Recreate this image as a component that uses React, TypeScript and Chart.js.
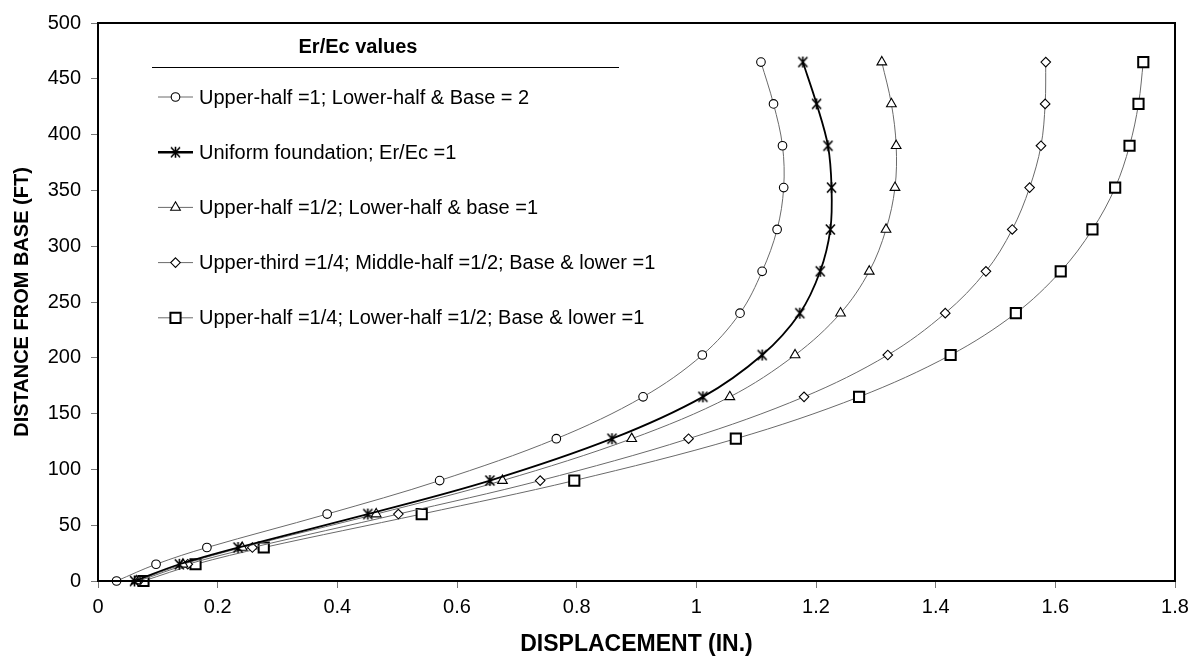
import React, { useEffect, useRef } from "react";
import { Chart, registerables } from "chart.js";

Chart.register(...registerables);

// Heights (ft from base) at which displacements were computed
const heights = [0, 15, 30, 60, 90, 127.5, 165, 202.5, 240, 277.5, 315, 352.5, 390, 427.5, 465];

// Displacements (in.) for each Er/Ec configuration
const upperHalf1LowerHalf2 = [0.031, 0.097, 0.182, 0.383, 0.571, 0.766, 0.911, 1.01, 1.073, 1.11, 1.135, 1.146, 1.144, 1.129, 1.108];
const uniformFoundation = [0.061, 0.136, 0.234, 0.451, 0.655, 0.859, 1.011, 1.11, 1.173, 1.207, 1.224, 1.226, 1.22, 1.201, 1.178];
const upperHalfHalf = [0.064, 0.142, 0.241, 0.465, 0.676, 0.892, 1.056, 1.165, 1.241, 1.289, 1.317, 1.332, 1.334, 1.326, 1.31];
const upperThirdQuarter = [0.068, 0.15, 0.258, 0.502, 0.739, 0.987, 1.18, 1.32, 1.416, 1.484, 1.528, 1.557, 1.576, 1.583, 1.584];
const upperHalfQuarter = [0.076, 0.163, 0.277, 0.541, 0.796, 1.066, 1.272, 1.425, 1.534, 1.609, 1.662, 1.7, 1.724, 1.739, 1.747];

const seriesLabels = [
  "Upper-half =1; Lower-half & Base = 2",
  "Uniform foundation; Er/Ec =1",
  "Upper-half =1/2; Lower-half & base =1",
  "Upper-third =1/4; Middle-half =1/2; Base & lower =1",
  "Upper-half =1/4; Lower-half =1/2; Base & lower =1",
];
const legendTitle = "Er/Ec values";
const xTitle = "DISPLACEMENT (IN.)";
const yTitle = "DISTANCE FROM BASE (FT)";

const FONT = "'Liberation Sans', Arial, Helvetica, sans-serif";

function makeAsterisk(): HTMLCanvasElement {
  const size = 13;
  const c = document.createElement("canvas");
  c.width = size;
  c.height = size;
  const ctx = c.getContext("2d")!;
  ctx.strokeStyle = "#000";
  ctx.lineWidth = 1.6;
  const m = size / 2;
  ctx.beginPath();
  ctx.moveTo(m, 1);
  ctx.lineTo(m, size - 1);
  ctx.moveTo(m - 4.5, 1.5);
  ctx.lineTo(m + 4.5, size - 1.5);
  ctx.moveTo(m + 4.5, 1.5);
  ctx.lineTo(m - 4.5, size - 1.5);
  ctx.stroke();
  return c;
}

type Sty = { style: string; radius: number; bw: number; lineColor: string; lineWidth: number };

const styles: Sty[] = [
  { style: "circle", radius: 4.3, bw: 1.1, lineColor: "#6a6a6a", lineWidth: 1 },
  { style: "asterisk", radius: 6, bw: 1.6, lineColor: "#000000", lineWidth: 1.8 },
  { style: "triangle", radius: 5.6, bw: 1.1, lineColor: "#6a6a6a", lineWidth: 1 },
  { style: "rectRot", radius: 4.8, bw: 1.1, lineColor: "#6a6a6a", lineWidth: 1 },
  { style: "rect", radius: 7.2, bw: 2, lineColor: "#6a6a6a", lineWidth: 1 },
];

function drawMarker(ctx: CanvasRenderingContext2D, s: Sty, x: number, y: number, ast: HTMLCanvasElement) {
  ctx.save();
  ctx.fillStyle = "#fff";
  ctx.strokeStyle = "#000";
  ctx.lineWidth = s.bw;
  const r = s.radius;
  ctx.beginPath();
  if (s.style === "asterisk") {
    ctx.drawImage(ast, x - ast.width / 2, y - ast.height / 2);
    ctx.restore();
    return;
  } else if (s.style === "circle") {
    ctx.arc(x, y, r, 0, Math.PI * 2);
  } else if (s.style === "triangle") {
    ctx.moveTo(x, y - r);
    ctx.lineTo(x + r * Math.sin(Math.PI / 3), y + r * 0.5);
    ctx.lineTo(x - r * Math.sin(Math.PI / 3), y + r * 0.5);
    ctx.closePath();
  } else if (s.style === "rectRot") {
    ctx.moveTo(x, y - r);
    ctx.lineTo(x + r, y);
    ctx.lineTo(x, y + r);
    ctx.lineTo(x - r, y);
    ctx.closePath();
  } else {
    const h = r * Math.SQRT1_2;
    ctx.rect(x - h, y - h, 2 * h, 2 * h);
  }
  ctx.fill();
  ctx.stroke();
  ctx.restore();
}

export default function App() {
  const ref = useRef<HTMLCanvasElement | null>(null);

  useEffect(() => {
    if (!ref.current) return;
    const ast = makeAsterisk();
    const series = [upperHalf1LowerHalf2, uniformFoundation, upperHalfHalf, upperThirdQuarter, upperHalfQuarter];

    const datasets = series.map((vals, i) => {
      const s = styles[i];
      return {
        label: seriesLabels[i],
        data: heights.map((h, j) => ({ x: vals[j], y: h })),
        showLine: true,
        tension: 0.35,
        borderColor: s.lineColor,
        borderWidth: s.lineWidth,
        pointStyle: s.style === "asterisk" ? ast : s.style,
        pointRadius: s.radius,
        pointBorderWidth: s.bw,
        pointBorderColor: "#000",
        pointBackgroundColor: "#fff",
        clip: false as any,
      };
    });

    const decor = {
      id: "decor",
      afterDraw(chart: any) {
        const ctx: CanvasRenderingContext2D = chart.ctx;
        const a = chart.chartArea;
        ctx.save();
        // frame
        ctx.strokeStyle = "#000";
        ctx.lineWidth = 2;
        ctx.strokeRect(a.left, a.top, a.right - a.left, a.bottom - a.top);

        // legend
        ctx.fillStyle = "#000";
        ctx.font = `bold 20px ${FONT}`;
        ctx.textAlign = "center";
        ctx.textBaseline = "middle";
        ctx.fillText(legendTitle, 358, 47);
        ctx.lineWidth = 1;
        ctx.beginPath();
        ctx.moveTo(152, 67.5);
        ctx.lineTo(619, 67.5);
        ctx.stroke();

        ctx.font = `20px ${FONT}`;
        ctx.textAlign = "left";
        for (let i = 0; i < seriesLabels.length; i++) {
          const y = 97 + i * 55.2;
          const s = styles[i];
          ctx.strokeStyle = s.lineColor;
          ctx.lineWidth = s.lineWidth + (i === 1 ? 0.6 : 0);
          ctx.beginPath();
          ctx.moveTo(158, y);
          ctx.lineTo(193, y);
          ctx.stroke();
          drawMarker(ctx, s, 175.5, y, ast);
          ctx.fillStyle = "#000";
          ctx.fillText(seriesLabels[i], 199, y + 1);
        }

        // axis titles
        ctx.font = `bold 23px ${FONT}`;
        ctx.textAlign = "center";
        ctx.fillText(xTitle, (a.left + a.right) / 2, 645);
        ctx.font = `bold 20px ${FONT}`;
        ctx.translate(22, (a.top + a.bottom) / 2);
        ctx.rotate(-Math.PI / 2);
        ctx.fillText(yTitle, 0, 0);
        ctx.restore();
      },
    };

    const chart = new Chart(ref.current, {
      type: "scatter",
      data: { datasets: datasets as any },
      options: {
        responsive: false,
        animation: false,
        layout: { padding: { left: 0, top: 23, right: 15, bottom: 0 } },
        plugins: { legend: { display: false }, tooltip: { enabled: false } },
        scales: {
          x: {
            type: "linear",
            min: 0,
            max: 1.8,
            border: { display: false },
            grid: { drawOnChartArea: false, drawTicks: true, tickLength: 7, color: "#777", lineWidth: 1 },
            ticks: {
              stepSize: 0.2,
              padding: 7,
              color: "#000",
              font: { family: FONT, size: 20 },
              callback: (v: any) => String(Number(Number(v).toFixed(1))),
            },
            afterFit: (scale: any) => {
              scale.height = 78;
              scale.paddingLeft = 0;
              scale.paddingRight = 0;
            },
          },
          y: {
            type: "linear",
            min: 0,
            max: 500,
            border: { display: false },
            grid: { drawOnChartArea: false, drawTicks: true, tickLength: 7, color: "#777", lineWidth: 1 },
            ticks: {
              stepSize: 50,
              padding: 10,
              color: "#000",
              font: { family: FONT, size: 20 },
            },
            afterFit: (scale: any) => {
              scale.width = 98;
              scale.paddingTop = 0;
              scale.paddingBottom = 0;
            },
          },
        },
      },
      plugins: [decor],
    });

    return () => chart.destroy();
  }, []);

  return (
    <div style={{ position: "absolute", left: 0, top: 0, width: 1190, height: 659, background: "#fff" }}>
      <canvas ref={ref} width={1190} height={659} style={{ display: "block" }} />
    </div>
  );
}
